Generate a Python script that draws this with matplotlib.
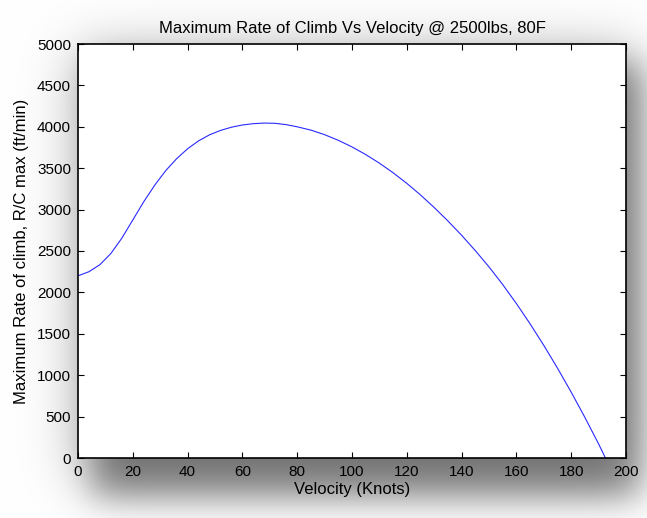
import math
import numpy as np
import matplotlib
matplotlib.use("Agg")
import matplotlib.pyplot as plt

plt.rcParams['font.family'] = ['Liberation Sans', 'DejaVu Sans']

# values
velocity = [0, 4, 8, 12, 16, 20, 24, 28, 32, 36, 40, 44, 48, 52, 56, 60, 64, 68,
            72, 76, 80, 85, 90, 95, 100, 105, 110, 115, 120, 125, 130, 135, 140,
            145, 150, 155, 160, 165, 170, 175, 180, 185, 190, 192.5]
roc_max = [2200, 2250, 2335, 2470, 2655, 2875, 3095, 3295, 3470, 3615, 3735, 3830,
           3903, 3956, 3995, 4022, 4038, 4045, 4042, 4026, 4000, 3960, 3905, 3837,
           3757, 3665, 3561, 3445, 3317, 3177, 3025, 2863, 2690, 2505, 2308, 2095,
           1865, 1620, 1360, 1085, 795, 490, 170, 0]

xticks = list(range(0, 201, 20))
yticks = list(range(0, 5001, 500))

W, H = 647, 518
fig = plt.figure(figsize=(W / 100, H / 100), dpi=100)

# soft drop shadow behind the axes box (pixel coords, y down)
erf = np.vectorize(math.erf)


def box(lo, hi, s, n):
    t = np.arange(n) + 0.5
    return 0.5 * (erf((t - lo) / (s * 1.414)) - erf((t - hi) / (s * 1.414)))


L, R, T, B = 78, 626, 44, 458
d1 = 0.26 * np.outer(box(T + 5, B + 22, 28, H), box(L - 2, R + 8, 28, W))
d2 = 0.42 * np.outer(box(T + 20, B + 38, 17, H), box(L + 15, R + 14, 17, W))
shade = (1 - d1) * (1 - d2)
img = np.dstack([shade, shade, shade])
fig.figimage(img, xo=0, yo=0, origin='upper', zorder=0)

ax = fig.add_axes([L / W, (H - B) / H, (R - L) / W, (B - T) / H], zorder=1)
ax.set_facecolor('white')
ax.plot(velocity, roc_max, color='#2a2aff', lw=0.8)

ax.set_xlim(0, 200)
ax.set_ylim(0, 5000)
ax.set_xticks(xticks)
ax.set_yticks(yticks)
ax.tick_params(direction='in', top=True, right=True, length=4, width=0.8,
               labelsize=11, colors='black')
ax.tick_params(axis='y', pad=5)
ax.tick_params(axis='x', pad=5)
for sp in ax.spines.values():
    sp.set_linewidth(1.2)

ax.set_title('Maximum Rate of Climb Vs Velocity @ 2500lbs, 80F', fontsize=12, pad=8)
ax.set_xlabel('Velocity (Knots)', fontsize=12, labelpad=2)
ax.set_ylabel('Maximum Rate of climb, R/C max (ft/min)', fontsize=12, labelpad=6)

fig.savefig('out.png', dpi=100)
